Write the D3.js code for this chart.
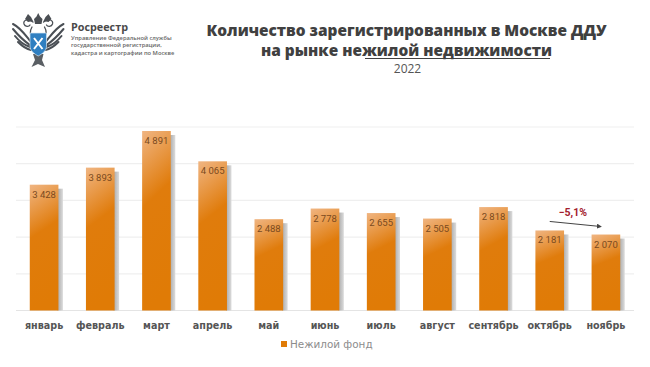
<!DOCTYPE html>
<html><head><meta charset="utf-8">
<script src="https://cdnjs.cloudflare.com/ajax/libs/d3/7.8.5/d3.min.js"></script>
<style>html,body{margin:0;padding:0;background:#fff}svg{display:block}</style></head>
<body><svg id="c" width="650" height="367" viewBox="0 0 650 367"></svg>
<script>
const months=["январь","февраль","март","апрель","май","июнь","июль","август","сентябрь","октябрь","ноябрь"];
const values=[3428,3893,4891,4065,2488,2778,2655,2505,2818,2181,2070];
const valueLabels=["3 428","3 893","4 891","4 065","2 488","2 778","2 655","2 505","2 818","2 181","2 070"];
const gridTicks=[1000,2000,3000,4000,5000];
const titleLines=["Количество зарегистрированных в Москве ДДУ","на рынке нежилой недвижимости"];
const subTitle="2022";
const legendLabel="Нежилой фонд";
const changeLabel="−5,1%";
const orgLines=["Управление Федеральной службы","государственной регистрации,","кадастра и картографии по Москве"];

const svg=d3.select("#c");
const x=d3.scaleBand().domain(months).range([16,634]).paddingInner(0.49).paddingOuter(0.245);
const y=d3.scaleLinear().domain([0,5000]).range([310.5,127]);
const defs=svg.append("defs");
const g=defs.append("linearGradient").attr("id","barG").attr("x1",0).attr("y1",0).attr("x2",0.15).attr("y2",1);
g.append("stop").attr("offset",0).attr("stop-color","#f0b582");
g.append("stop").attr("offset",0.42).attr("stop-color","#e07c0c");
g.append("stop").attr("offset",1).attr("stop-color","#e07b06");
const gs=defs.append("linearGradient").attr("id","shG").attr("x1",0).attr("x2",1).attr("y1",0).attr("y2",0);
gs.append("stop").attr("offset",0).attr("stop-color","#a9a9a9");
gs.append("stop").attr("offset",1).attr("stop-color","#dcdcdc");

svg.append("g").selectAll("line").data(gridTicks).join("line")
 .attr("x1",16).attr("x2",634).attr("y1",d=>y(d)).attr("y2",d=>y(d))
 .attr("stroke","#efefef").attr("stroke-width",1.2);
svg.append("line").attr("x1",16).attr("x2",634).attr("y1",y(0)).attr("y2",y(0)).attr("stroke","#e4e4e4").attr("stroke-width",1.2);

svg.append("g").selectAll("rect").data(values).join("rect")
 .attr("x",(d,i)=>x(months[i])+x.bandwidth()-1)
 .attr("width",5.5).attr("y",d=>y(d)+4).attr("height",d=>y(0)-y(d)-4).attr("fill","url(#shG)");
svg.append("g").selectAll("rect").data(values).join("rect")
 .attr("x",(d,i)=>x(months[i])).attr("width",x.bandwidth())
 .attr("y",d=>y(d)).attr("height",d=>y(0)-y(d)).attr("fill","url(#barG)");
svg.append("g").selectAll("text").data(values).join("text")
 .attr("x",(d,i)=>x(months[i])+x.bandwidth()/2).attr("y",d=>y(d)+13)
 .attr("text-anchor","middle").attr("font-family","Roboto").attr("font-size",9.5).attr("fill","#7a4a20")
 .text((d,i)=>valueLabels[i]);
svg.append("g").selectAll("text").data(months).join("text")
 .attr("x",d=>x(d)+x.bandwidth()/2).attr("y",329)
 .attr("text-anchor","middle").attr("font-family","'DejaVu Sans'").attr("font-weight","bold").attr("font-size",9.6).attr("fill","#555")
 .text(d=>d);
svg.append("rect").attr("x",281).attr("y",341).attr("width",6).attr("height",6).attr("fill","#e07b06");
svg.append("text").attr("x",290).attr("y",348).attr("font-family","'DejaVu Sans'").attr("font-size",10.4).attr("fill","#8c8c8c").text(legendLabel);
const tt=svg.append("g").attr("font-family","'Open Sans'").attr("font-weight",800).attr("font-size",15.4).attr("fill","#404040").attr("text-anchor","middle");
tt.selectAll("text").data(titleLines).join("text").attr("x",406.5).attr("y",(d,i)=>36+i*19.5).text(d=>d);
svg.append("line").attr("x1",365).attr("x2",550).attr("y1",58.5).attr("y2",58.5).attr("stroke","#404040").attr("stroke-width",1.2);
svg.append("text").attr("x",407.5).attr("y",72.5).attr("text-anchor","middle").attr("font-family","'Open Sans'").attr("font-size",12).attr("fill","#555").text(subTitle);
const anchorA=x("октябрь")+x.bandwidth()/2, anchorB=x("ноябрь")+x.bandwidth()/2;
svg.append("text").attr("x",(anchorA+anchorB)/2-5).attr("y",216).attr("text-anchor","middle").attr("font-family","Roboto").attr("font-weight","bold").attr("font-size",10.5).attr("fill","#a3202e").text(changeLabel);
defs.append("marker").attr("id","ah").attr("markerWidth",6).attr("markerHeight",6).attr("refX",4).attr("refY",2.5).attr("orient","auto").append("path").attr("d","M0,0L5,2.5L0,5Z").attr("fill","#444");
svg.append("line").attr("x1",anchorA).attr("y1",y(2181)-9).attr("x2",anchorB-5).attr("y2",y(2070)-8).attr("stroke","#444").attr("stroke-width",1).attr("marker-end","url(#ah)");
svg.append("text").attr("x",71).attr("y",31).attr("font-family","'Open Sans'").attr("font-weight","bold").attr("font-size",10.8).attr("fill","#4a4a4a").text("Росреестр");
svg.append("g").selectAll("text").data(orgLines).join("text").attr("x",71).attr("y",(d,i)=>39.5+i*7.8)
 .attr("font-family","'Open Sans'").attr("font-size",5.75).attr("font-weight",600).attr("fill","#666").text(d=>d);
// emblem
const e=svg.append("g");
const wing=e.append("g").attr("id","wing").attr("fill","none").attr("stroke","#4a4f55").attr("stroke-linecap","round");
wing.append("path").attr("stroke-width",2).attr("d","M31,42C26,36 21,28 13,24M30,45C24,41 18,35 13,29M30,47C24,45 19,41 15,36M31,50C26,49 22,46 18,42");
wing.append("path").attr("stroke-width",1.3).attr("d","M33,22C28,18 23,20 24,24C25,27 29,27 30,25M32,27C29,32 31,36 33,38");
const mir=e.append("g").attr("transform","translate(76.5,0) scale(-1,1)").attr("fill","none").attr("stroke","#4a4f55").attr("stroke-linecap","round");
mir.append("path").attr("stroke-width",2).attr("d","M31,42C26,36 21,28 13,24M30,45C24,41 18,35 13,29M30,47C24,45 19,41 15,36M31,50C26,49 22,46 18,42");
mir.append("path").attr("stroke-width",1.3).attr("d","M33,22C28,18 23,20 24,24C25,27 29,27 30,25M32,27C29,32 31,36 33,38");
e.append("path").attr("fill","#4b4f54").attr("d","M38.2,13L40,16.5L42.5,19L41.5,24L35,24L34,19L36.5,16.5Z");
e.append("path").attr("fill","#4b4f54").attr("d","M28,14L31,17L33,21L28,22L25,19ZM48.5,14L45.5,17L43.5,21L48.5,22L51.5,19Z");
e.append("path").attr("fill","#5a5f64").attr("d","M33,54L43.5,54L42,60L45,67L38,64L31.5,67L35,60Z");
e.append("path").attr("fill","#2f7fc1").attr("stroke","#d9e6f2").attr("stroke-width",.7).attr("d","M30,33L46.5,33L46.5,46C46.5,51 42,54 38.2,56C34.5,54 30,51 30,46Z");
e.append("path").attr("fill","none").attr("stroke","#fff").attr("stroke-width",2).attr("d","M34,38L42.5,49M42.5,38L34,49");
</script></body></html>
